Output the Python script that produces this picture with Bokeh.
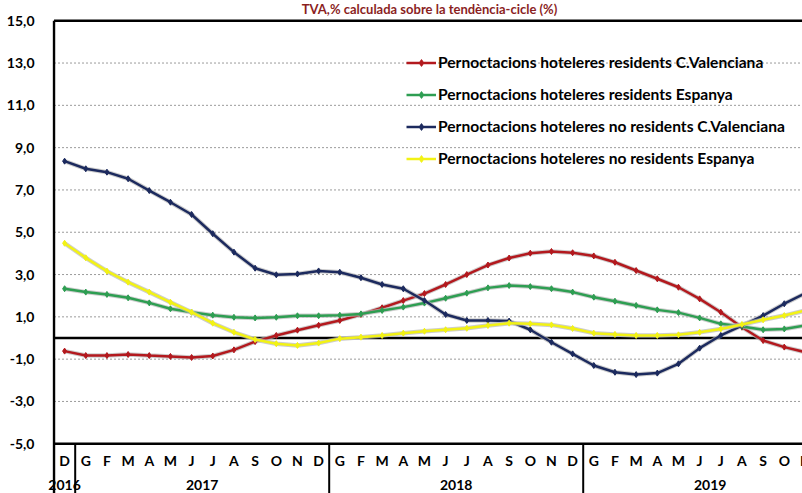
from bokeh.plotting import figure
from bokeh.models import (FixedTicker, CustomJSTickFormatter, Legend,
                          LegendItem, Range1d, Label)
from bokeh.core.properties import value
from bokeh.embed import file_html
from bokeh.resources import INLINE

# ---------------- data ----------------
months = (["D"] + ["G", "F", "M", "A", "M", "J", "J", "A", "S", "O", "N", "D"] * 2
          + ["G", "F", "M", "A", "M", "J", "J", "A", "S", "O", "N"])
years = ["2016", "2017", "2018", "2019"]
year_first = [0, 1, 13, 25]
year_last = [0, 12, 24, 36]

res_cv = [-0.62, -0.83, -0.83, -0.78, -0.83, -0.87, -0.92, -0.85, -0.56, -0.17, 0.12, 0.37,
          0.60, 0.83, 1.11, 1.43, 1.77, 2.10, 2.53, 3.00, 3.45, 3.78, 4.01, 4.09,
          4.03, 3.88, 3.58, 3.19, 2.80, 2.40, 1.85, 1.22, 0.51, -0.12, -0.43, -0.67]
res_es = [2.33, 2.17, 2.06, 1.90, 1.66, 1.38, 1.22, 1.08, 0.98, 0.95, 0.98, 1.05,
          1.05, 1.08, 1.14, 1.30, 1.46, 1.65, 1.88, 2.12, 2.37, 2.48, 2.43, 2.33,
          2.17, 1.93, 1.74, 1.54, 1.33, 1.20, 0.95, 0.67, 0.54, 0.39, 0.43, 0.59]
nores_cv = [8.36, 8.00, 7.84, 7.53, 6.97, 6.42, 5.84, 4.93, 4.06, 3.30, 2.99, 3.03,
            3.17, 3.11, 2.85, 2.53, 2.33, 1.77, 1.11, 0.83, 0.83, 0.80, 0.39, -0.20,
            -0.75, -1.30, -1.62, -1.73, -1.66, -1.22, -0.48, 0.12, 0.59, 1.06, 1.62, 2.12]
nores_es = [4.48, 3.79, 3.16, 2.64, 2.17, 1.69, 1.22, 0.70, 0.27, -0.07, -0.27, -0.35,
            -0.24, -0.03, 0.04, 0.12, 0.23, 0.32, 0.39, 0.46, 0.59, 0.70, 0.67, 0.62,
            0.45, 0.23, 0.17, 0.12, 0.12, 0.15, 0.27, 0.43, 0.64, 0.86, 1.06, 1.30]

series = [
    ("Pernoctacions hoteleres residents C.Valenciana", res_cv, "#B3191E"),
    ("Pernoctacions hoteleres residents Espanya", res_es, "#2E9E52"),
    ("Pernoctacions hoteleres no residents C.Valenciana", nores_cv, "#1C2A5E"),
    ("Pernoctacions hoteleres no residents Espanya", nores_es, "#F2F215"),
]
title_text = "TVA,% calculada sobre la tendència-cicle (%)"

y_ticks = [-5, -3, -1, 1, 3, 5, 7, 9, 11, 13, 15]
grid_ticks = [-3, -1, 1, 3, 5, 7, 9, 11, 13]
frame_ticks = [15, 0, -5]

X0, X1 = -0.95, 34.86
Y0, Y1 = -7.352, 15.957
x = list(range(len(months)))

# ---------------- figure ----------------
p = figure(width=802, height=493, output_backend="svg", toolbar_location=None,
           x_range=Range1d(X0, X1), y_range=Range1d(Y0, Y1),
           min_border_left=44, min_border_right=0, min_border_bottom=0, min_border_top=0)
p.outline_line_color = None
p.xaxis.visible = False
p.xgrid.visible = False
p.ygrid.visible = False

ax = p.yaxis[0]
ax.ticker = FixedTicker(ticks=y_ticks)
ax.formatter = CustomJSTickFormatter(code="return tick.toFixed(1).replace('.', ',');")
ax.major_tick_line_color = None
ax.minor_tick_line_color = None
ax.axis_line_color = None
ax.major_label_text_font = "Lato"
ax.major_label_text_font_style = "bold"
ax.major_label_text_font_size = "14px"
ax.major_label_text_color = "black"
ax.major_label_standoff = 4

# dotted grid lines, starting at the value axis
n = len(grid_ticks)
p.segment(x0=[-0.5] * n, x1=[X1] * n, y0=grid_ticks, y1=grid_ticks,
          line_color="#9a9a9a", line_dash="2 2", line_width=1)
# frame lines (top, zero, bottom of the value area)
m = len(frame_ticks)
p.segment(x0=[-0.5] * m, x1=[X1] * m, y0=frame_ticks, y1=frame_ticks,
          line_color="black", line_width=2.4)
# value axis line
p.segment(x0=[-0.5], x1=[-0.5], y0=[15], y1=[Y0], line_color="black", line_width=2.4)

# separators between years in the category axis
sep_x = [v + 0.5 for v in year_last[:-1]]
p.segment(x0=sep_x, x1=sep_x, y0=[-5] * len(sep_x), y1=[Y0] * len(sep_x),
          line_color="black", line_width=2)

# month and year labels
p.text(x=x, y=[-5.77] * len(x), text=months, text_font=value("Lato"),
       text_font_style="bold", text_font_size="14px", text_align="center",
       text_baseline="middle", text_color="black")
year_c = [(a + b) / 2 for a, b in zip(year_first, year_last)]
p.text(x=year_c, y=[-6.97] * len(year_c), text=years, text_font=value("Lato"),
       text_font_style="bold", text_font_size="14px", text_align="center",
       text_baseline="middle", text_color="black")

p.add_layout(Label(x=17.24, y=Y1, text=title_text, text_align="center",
                   text_baseline="top", text_font="Lato", text_font_style="bold",
                   text_font_size="13px", text_color="#8B1F1F"))

items = []
for name, vals, col in series:
    p.line(x, vals, line_color="#b8b8b8", line_width=4.5, line_alpha=0.7)
    ln = p.line(x, vals, line_color=col, line_width=2.5)
    sc = p.scatter(x, vals, marker="diamond", size=6, fill_color=col, line_color=col)
    items.append(LegendItem(label=name, renderers=[ln, sc]))

legend = Legend(items=items, location=(362, 326), glyph_width=30, glyph_height=17,
                label_height=17, spacing=14, padding=0, margin=0, label_standoff=2,
                background_fill_alpha=0, border_line_color=None,
                label_text_font="Lato", label_text_font_style="bold",
                label_text_font_size="15.6px", label_text_color="black")
p.add_layout(legend)

open("out.html", "w").write(file_html(p, INLINE))
